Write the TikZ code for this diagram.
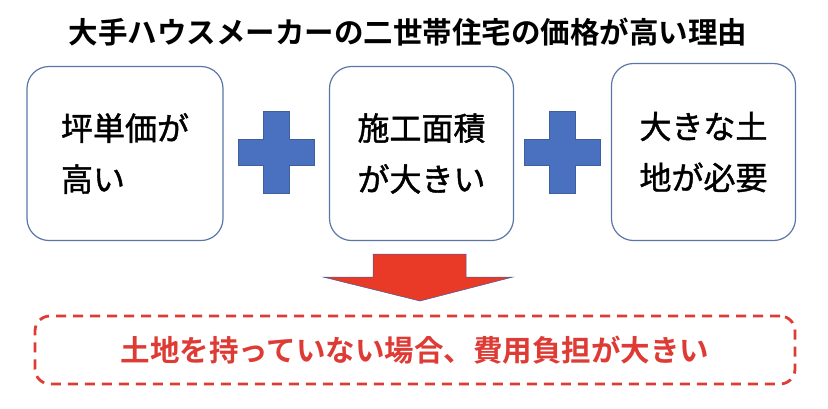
\documentclass[tikz,border=0pt]{standalone}
\usepackage{fontspec}
\usepackage{xcolor}
\usepackage{tikz}
\usetikzlibrary{calc}
\newfontfamily\jpfont{Noto Sans CJK JP}[BoldFont={Noto Sans CJK JP Bold}]
\newfontfamily\jpmid{Noto Sans CJK JP}[FakeBold=1.3]
\definecolor{boxblue}{HTML}{5A76A8}
\definecolor{crossblue}{HTML}{4A70C0}
\definecolor{crossedge}{HTML}{3F5E9C}
\definecolor{arrowred}{HTML}{E83A27}
\definecolor{resultred}{HTML}{DE3B35}
\tikzset{
  reason/.style={draw=boxblue, line width=1.2pt, rounded corners=22pt, minimum width=184pt, minimum height=174pt, align=left, font=\jpmid\fontsize{32}{51}\selectfont},
  cross/.style={fill=crossblue, draw=crossedge, line width=0.6pt},
}

\begin{document}
\begin{tikzpicture}[x=1pt, y=-1pt]
\useasboundingbox (0,0) rectangle (828,408);
\node (title) at (408,32) [font=\jpfont\bfseries\fontsize{29.5}{30}\selectfont] {大手ハウスメーカーの二世帯住宅の価格が高い理由};
\node (cost) at (125,153.5) [reason, minimum width=196pt] {坪単価が\\高い};
\node (area) at (421.5,153.5) [reason] {施工面積\\が大きい};
\node (land) at (703.5,152) [reason, minimum height=177pt] {大きな土\\地が必要};
% plus signs
\foreach \cx in {276.5,562} {
  \draw[cross] (\cx-13,111) -- (\cx+13,111) -- (\cx+13,139) -- (\cx+38,139) -- (\cx+38,165) -- (\cx+13,165)
    -- (\cx+13,193) -- (\cx-13,193) -- (\cx-13,165) -- (\cx-38,165) -- (\cx-38,139) -- (\cx-13,139) -- cycle;
}
% down arrow
\draw[fill=arrowred, draw=crossedge, line width=0.5pt] (373,254) -- (466,254) -- (466,277) -- (513,277) -- (420,301) -- (323,277) -- (373,277) -- cycle;
\node (result) at (415,350) [draw=resultred, line width=2.8pt, dash pattern=on 10pt off 7pt, rounded corners=15pt, minimum width=760pt, minimum height=68pt, text=resultred, font=\jpfont\bfseries\fontsize{29.5}{30}\selectfont] {土地を持っていない場合、費用負担が大きい};
\end{tikzpicture}
\end{document}
